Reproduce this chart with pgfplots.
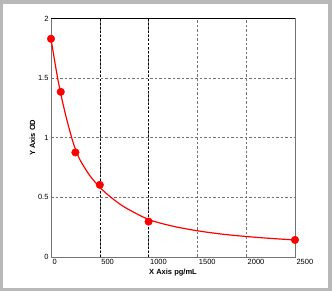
\documentclass[border=0pt]{standalone}
\usepackage{pgfplots}
\pgfplotsset{compat=1.18}
\usepackage{fontspec}
\setmainfont{Liberation Sans}
\begin{document}
\begin{tikzpicture}[x=1pt,y=1pt]
\fill[black!28] (0,0) rectangle (332,291);
\fill[white] (3,3) rectangle (328,287);
\begin{axis}[
  at={(51pt,34pt)}, anchor=south west,
  scale only axis, width=244pt, height=238.5pt,
  xmin=0, xmax=2500, ymin=0, ymax=2,
  xtick={0,500,1000,1500,2000,2500},
  ytick={0,0.5,1,1.5,2},
  yticklabels={0,0.5,1,1.5,2},
  xticklabels={0,500,1000,1500,2000,2500},
  major tick length=0pt,
  grid=major,
  major grid style={black!55, line width=0.5pt, dash pattern=on 2.5pt off 2pt},
  extra x ticks={500,1000},
  extra x tick labels={},
  extra x tick style={grid=major, major grid style={black, line width=0.55pt, dash pattern=on 2pt off 2pt}},
  axis line style={black!55, line width=0.8pt},
  every tick label/.style={font=\fontsize{7.5}{8}\selectfont},
  xticklabel style={anchor=north west, xshift=-2pt, yshift=1pt},
  yticklabel style={anchor=east, xshift=1pt},
  xlabel={X Axis pg/mL},
  ylabel={Y Axis OD},
  label style={font=\fontsize{7.5}{8}\selectfont\bfseries},
  xlabel style={yshift=3pt},
  ylabel style={yshift=-4pt},
  clip=false,
]
\addplot[red, line width=1.2pt, smooth, no marks] coordinates {
(0,1.83) (30,1.68) (68,1.5) (100,1.37) (150,1.19) (212,1.0) (250,0.905) (300,0.81) (400,0.68) (500,0.585) (600,0.51) (750,0.42) (1000,0.315) (1250,0.258) (1500,0.22) (1750,0.192) (2000,0.172) (2250,0.156) (2500,0.143)
};
\addplot[only marks, mark=*, mark size=3.8pt, color=red, mark options={fill=red, draw=red}] coordinates {
(0,1.83) (100,1.385) (250,0.877) (500,0.605) (1000,0.297) (2500,0.143)
};
\draw[black, line width=0.8pt] (rel axis cs:0,1) -- (rel axis cs:1,1);
\end{axis}
\end{tikzpicture}
\end{document}
